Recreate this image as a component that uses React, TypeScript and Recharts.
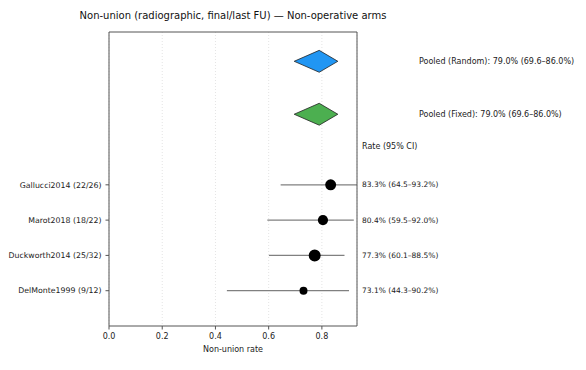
import { Area, CartesianGrid, ComposedChart, ErrorBar, ReferenceLine, Scatter, XAxis, YAxis, ZAxis } from "recharts";

// study rows, top to bottom
const studies = ["Gallucci2014 (22/26)", "Marot2018 (18/22)", "Duckworth2014 (25/32)", "DelMonte1999 (9/12)"];
const studyRows = [3, 2, 1, 0];
const rates = [0.833, 0.804, 0.773, 0.731];
const lower = [0.645, 0.595, 0.601, 0.443];
const upper = [0.932, 0.92, 0.885, 0.902];
const sizes = [26, 22, 32, 12];
const rateLabels = ["83.3% (64.5–93.2%)", "80.4% (59.5–92.0%)", "77.3% (60.1–88.5%)", "73.1% (44.3–90.2%)"];

// pooled estimates
const pooledNames = ["Random", "Fixed"];
const pooledRows = [6.5, 5];
const pooledRate = [0.79, 0.79];
const pooledLower = [0.696, 0.696];
const pooledUpper = [0.86, 0.86];
const pooledColors = ["#2196f3", "#4caf50"];

const headerRow = 4.1;
const xTicks = [0, 0.2, 0.4, 0.6, 0.8];
const xMax = 0.932;
const yDomain: [number, number] = [-1, 7.33];
const diamondHalf = 0.31;

const font = "DejaVu Sans, sans-serif";
const spine = "#555";

const points = studies.map((s, i) => ({
  name: s,
  x: rates[i],
  y: studyRows[i],
  n: sizes[i],
  err: [rates[i] - lower[i], upper[i] - rates[i]],
}));

const diamonds = pooledNames.map((_, i) => [
  { x: pooledLower[i], band: [pooledRows[i], pooledRows[i]] },
  { x: pooledRate[i], band: [pooledRows[i] - diamondHalf, pooledRows[i] + diamondHalf] },
  { x: pooledUpper[i], band: [pooledRows[i], pooledRows[i]] },
]);

const rightLabels = new Map<number, string>();
studyRows.forEach((r, i) => rightLabels.set(r, rateLabels[i]));
rightLabels.set(headerRow, "Rate (95% CI)");
pooledNames.forEach((p, i) =>
  rightLabels.set(
    pooledRows[i],
    `Pooled (${p}): ${(pooledRate[i] * 100).toFixed(1)}% (${(pooledLower[i] * 100).toFixed(1)}–${(pooledUpper[i] * 100).toFixed(1)}%)`
  )
);
const rightTicks = [...studyRows, headerRow, ...pooledRows];

const RightTick = (props: any) => {
  const { x, y, payload } = props;
  const isPooled = pooledRows.includes(payload.value);
  const isHeader = payload.value === headerRow;
  return (
    <text
      x={x + (isPooled ? 57 : 0)}
      y={y}
      dy="0.35em"
      textAnchor="start"
      fontSize={isPooled ? 8 : isHeader ? 8 : 7.5}
      fontFamily={font}
      fill="#222"
    >
      {rightLabels.get(payload.value)}
    </text>
  );
};

const LeftTick = (props: any) => {
  const { x, y, payload } = props;
  return (
    <text x={x} y={y} dy="0.35em" textAnchor="end" fontSize={7.8} fontFamily={font} fill="#222">
      {studies[studyRows.indexOf(payload.value)]}
    </text>
  );
};

export default function App() {
  return (
    <div style={{ position: "relative", margin: -8, width: 586, height: 370, background: "#fff" }}>
      <div
        style={{
          position: "absolute",
          left: 0,
          width: 466,
          top: 10,
          textAlign: "center",
          fontFamily: font,
          fontSize: 10,
          color: "#111",
        }}
      >
        Non-union (radiographic, final/last FU) — Non-operative arms
      </div>
      <ComposedChart width={586} height={370} margin={{ top: 32, right: 0, bottom: 0, left: 0 }}>
        <CartesianGrid horizontal={false} stroke="#e4e4e4" strokeDasharray="1 2" />
        <XAxis
          type="number"
          dataKey="x"
          domain={[0, xMax]}
          ticks={xTicks}
          allowDataOverflow
          tickFormatter={(v: number) => v.toFixed(1)}
          height={44}
          stroke={spine}
          tickSize={3.5}
          tickMargin={4}
          tick={{ fontSize: 8, fontFamily: font, fill: "#222" }}
          label={{ value: "Non-union rate", position: "insideBottom", offset: 18, fontSize: 8, fontFamily: font, fill: "#222" }}
        />
        <YAxis
          type="number"
          dataKey="y"
          domain={yDomain}
          ticks={studyRows}
          allowDataOverflow
          width={109}
          stroke={spine}
          tickSize={3.5}
          tickMargin={4}
          interval={0}
          tick={<LeftTick />}
        />
        <YAxis
          yAxisId="r"
          orientation="right"
          type="number"
          domain={yDomain}
          ticks={rightTicks}
          allowDataOverflow
          interval={0}
          width={229}
          stroke={spine}
          tickLine={false}
          tickSize={0}
          tickMargin={5}
          tick={<RightTick />}
        />
        <ZAxis dataKey="n" domain={[12, 32]} range={[50, 113]} />
        <ReferenceLine y={yDomain[1]} stroke={spine} />
        {diamonds.map((d, i) => (
          <Area
            key={pooledNames[i]}
            data={d}
            dataKey="band"
            type="linear"
            fill={pooledColors[i]}
            fillOpacity={1}
            stroke="#222"
            strokeWidth={0.8}
            isAnimationActive={false}
          />
        ))}
        <Scatter data={points} fill="#000" isAnimationActive={false}>
          <ErrorBar dataKey="err" direction="x" width={0} stroke="#808080" strokeWidth={1.3} />
        </Scatter>
      </ComposedChart>
    </div>
  );
}
